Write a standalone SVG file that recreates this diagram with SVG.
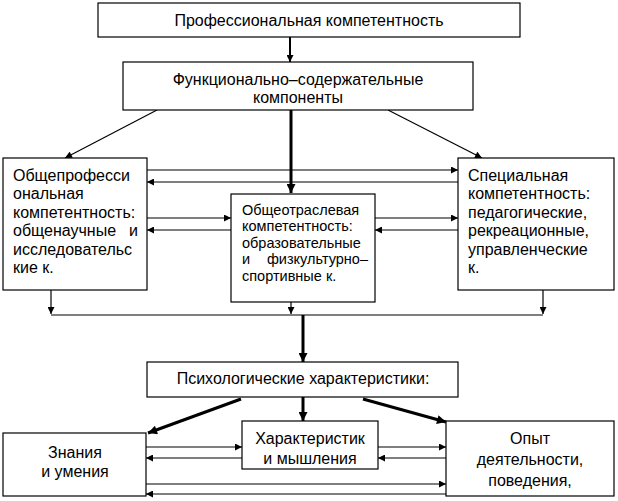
<svg xmlns="http://www.w3.org/2000/svg" width="618" height="501" viewBox="0 0 618 501">
<style>
.box{fill:#fff;stroke:#000;stroke-width:1.2}
.t{font-family:"Liberation Sans",Arial,sans-serif;font-size:16px;fill:#000}
.s{font-size:14.5px}
.c{text-anchor:middle}
.ln{fill:none;stroke:#000;stroke-width:1.2}
.th{fill:none;stroke:#000;stroke-width:3}
.md{fill:none;stroke:#000;stroke-width:2}
</style>
<defs>
<marker id="a" viewBox="0 0 10 10" refX="10" refY="5" markerWidth="8" markerHeight="7" markerUnits="userSpaceOnUse" orient="auto"><path d="M0,0 L10,5 L0,10 z" fill="#000"/></marker>
<marker id="b" viewBox="0 0 10 10" refX="10" refY="5" markerWidth="11" markerHeight="9" markerUnits="userSpaceOnUse" orient="auto"><path d="M0,0 L10,5 L0,10 z" fill="#000"/></marker>
</defs>
<rect width="618" height="501" fill="#fff"/>
<g id="connectors">
<line class="md" x1="290" y1="37" x2="290" y2="62" marker-end="url(#a)"/>
<line class="ln" x1="157" y1="110" x2="65" y2="158" marker-end="url(#a)"/>
<line class="ln" x1="388" y1="110" x2="482" y2="158" marker-end="url(#a)"/>
<line class="th" x1="291" y1="110" x2="291" y2="193" marker-end="url(#b)"/>
<line class="ln" x1="147" y1="170" x2="458" y2="170" marker-end="url(#a)"/>
<line class="ln" x1="458" y1="182" x2="147" y2="182" marker-end="url(#a)"/>
<line class="ln" x1="147" y1="218" x2="231" y2="218" marker-end="url(#a)"/>
<line class="ln" x1="231" y1="230" x2="147" y2="230" marker-end="url(#a)"/>
<line class="ln" x1="375" y1="218" x2="458" y2="218" marker-end="url(#a)"/>
<line class="ln" x1="458" y1="230" x2="375" y2="230" marker-end="url(#a)"/>
<line class="ln" x1="51" y1="290" x2="51" y2="314" marker-end="url(#a)"/>
<line class="ln" x1="291" y1="302" x2="291" y2="314" marker-end="url(#a)"/>
<line class="ln" x1="543" y1="290" x2="543" y2="314" marker-end="url(#a)"/>
<line class="ln" x1="51" y1="315" x2="543" y2="315"/>
<line class="th" x1="303" y1="315" x2="303" y2="362" marker-end="url(#b)"/>
<line class="th" x1="241" y1="399" x2="148" y2="433" marker-end="url(#b)"/>
<line class="th" x1="303" y1="397" x2="303" y2="421" marker-end="url(#b)"/>
<line class="th" x1="363" y1="399" x2="446" y2="422" marker-end="url(#b)"/>
<line class="ln" x1="146" y1="447" x2="242" y2="447" marker-end="url(#a)"/>
<line class="ln" x1="242" y1="458" x2="146" y2="458" marker-end="url(#a)"/>
<line class="ln" x1="378" y1="447" x2="446" y2="447" marker-end="url(#a)"/>
<line class="ln" x1="446" y1="458" x2="378" y2="458" marker-end="url(#a)"/>
<line class="ln" x1="146" y1="484" x2="446" y2="484" marker-end="url(#a)"/>
<line class="ln" x1="446" y1="494" x2="146" y2="494" marker-end="url(#a)"/>
</g>
<g id="prof">
<rect class="box" x="98" y="3" width="422" height="34"/>
<text class="t c" x="309" y="26">Профессиональная компетентность</text>
</g>
<g id="func">
<rect class="box" x="123" y="62" width="350" height="48"/>
<text class="t c" x="298" y="85">Функционально–содержательные</text>
<text class="t c" x="298" y="103">компоненты</text>
</g>
<g id="obshprof">
<rect class="box" x="3" y="158" width="144" height="132"/>
<text class="t" x="13" y="181">Общепрофесси</text>
<text class="t" x="13" y="199">ональная</text>
<text class="t" x="13" y="218">компетентность:</text>
<text class="t" x="13" y="236">общенаучные</text>
<text class="t" x="138" y="236" text-anchor="end">и</text>
<text class="t" x="13" y="255">исследовательс</text>
<text class="t" x="13" y="273">кие к.</text>
</g>
<g id="obshotr">
<rect class="box" x="231" y="194" width="144" height="108"/>
<text class="t s" x="242" y="215">Общеотраслевая</text>
<text class="t s" x="242" y="231">компетентность:</text>
<text class="t s" x="242" y="248">образовательные</text>
<text class="t s" x="242" y="264">и</text>
<text class="t s" x="368" y="264" text-anchor="end">физкультурно–</text>
<text class="t s" x="242" y="281">спортивные к.</text>
</g>
<g id="spec">
<rect class="box" x="458" y="158" width="156" height="132"/>
<text class="t" x="468" y="181">Специальная</text>
<text class="t" x="468" y="199">компетентность:</text>
<text class="t" x="468" y="218">педагогические,</text>
<text class="t" x="468" y="236">рекреационные,</text>
<text class="t" x="468" y="255">управленческие</text>
<text class="t" x="468" y="273">к.</text>
</g>
<g id="psych">
<rect class="box" x="147" y="362" width="311" height="35"/>
<text class="t c" x="303" y="384">Психологические характеристики:</text>
</g>
<g id="znania">
<rect class="box" x="3" y="433" width="143" height="63"/>
<text class="t c" x="75" y="458">Знания</text>
<text class="t c" x="75" y="477">и умения</text>
</g>
<g id="myshl">
<rect class="box" x="242" y="421" width="136" height="48"/>
<text class="t c" x="310" y="444">Характеристик</text>
<text class="t c" x="310" y="464">и мышления</text>
</g>
<g id="opyt">
<rect class="box" x="446" y="421" width="168" height="75"/>
<text class="t c" x="530" y="444">Опыт</text>
<text class="t c" x="530" y="465">деятельности,</text>
<text class="t c" x="530" y="486">поведения,</text>
</g>
</svg>
